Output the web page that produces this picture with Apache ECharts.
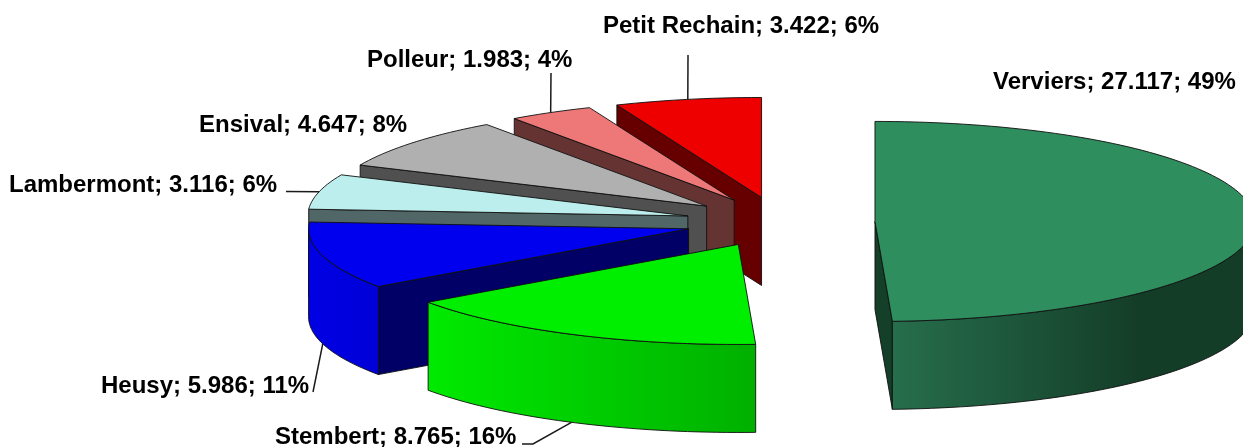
<!DOCTYPE html>
<html><head><meta charset="utf-8">
<style>html,body{margin:0;padding:0;background:#fff}#c{width:1243px;height:447px}</style>
<script src="https://cdn.jsdelivr.net/npm/echarts@6/dist/echarts.min.js"></script>
</head><body><div id="c"></div>
<script>
// Data
const names  = ['Verviers','Stembert','Heusy','Lambermont','Ensival','Polleur','Petit Rechain'];
const values = [27.117, 8.765, 5.986, 3.116, 4.647, 1.983, 3.422];
const shares = [49, 16, 11, 6, 8, 4, 6];

// Styles
const topColors = ['#2E8E5E','#00EE00','#0000EE','#BBEEEC','#B0B0B0','#EE7777','#EE0000'];
const cutColors = ['#143F29','#006600','#000066','#516666','#505050','#663333','#660000'];
const wallStops = [
  [[0,'#266E4C'],[0.68,'#143D28'],[1,'#143D28']],
  [[0,'#00EA00'],[1,'#00B000']],
  [[0,'#0000E4'],[1,'#0000D8']],
  [['0','#516666'],['1','#516666']],
  [['0','#505050'],['1','#505050']],
  [['0','#663333'],['1','#663333']],
  [['0','#660000'],['1','#660000']]
];
// Layout
const geom = {cx:780, cy:222, rx:380, ry:100, depth:88, explode:0.25};
const labelPos = [[993,82.5],[275,437.5],[101,386.5],[9,185.5],[199,125.5],[367,60.5],[603,26.5]];
const leaderEnds = [null,[[533,444],[522,444]],[[313,392]],[[286,191.5]],null,[[551,73]],[[688,55]]];
const leaderFront = [false,true,true,false,false,false,false];

const total = values.reduce((a,b)=>a+b,0);
const rad = d => d*Math.PI/180;
let acc = 0;
const slices = values.map(v => { const a0 = acc/total*360; acc += v; return [a0, acc/total*360]; });

function apex(i){
  const m = rad((slices[i][0]+slices[i][1])/2), g = geom;
  return [g.cx + g.explode*g.rx*Math.sin(m), g.cy - g.explode*g.ry*Math.cos(m)];
}
function onArc(c,deg,dy){
  return [c[0]+geom.rx*Math.sin(rad(deg)), c[1]-geom.ry*Math.cos(rad(deg))+(dy||0)];
}
function arc(c,a0,a1,dy){
  const n = Math.max(2,Math.ceil((a1-a0)/1.5)), pts=[];
  for(let k=0;k<=n;k++) pts.push(onArc(c,a0+(a1-a0)*k/n,dy));
  return pts;
}
const edge = {stroke:'#101010', lineWidth:0.9};
function poly(points,fill,z2){
  return {type:'polygon',z2,silent:true,shape:{points},style:Object.assign({fill},edge)};
}
function renderSlice(params,api){
  const i = api.value(0), c = apex(i), [a0,a1] = slices[i], d = geom.depth, kids=[];
  const base = (names.length-i)*10;
  // cut faces turned toward the viewer
  if(Math.sin(rad(a0))<-1e-6){
    const e = onArc(c,a0);
    kids.push(poly([c,e,[e[0],e[1]+d],[c[0],c[1]+d]],cutColors[i],base));
  }
  if(Math.sin(rad(a1))>1e-6){
    const e = onArc(c,a1);
    kids.push(poly([c,e,[e[0],e[1]+d],[c[0],c[1]+d]],cutColors[i],base));
  }
  // outer wall: front half of the rim only
  const w0 = Math.max(a0,90), w1 = Math.min(a1,270);
  if(w1>w0){
    const t = arc(c,w0,w1,0), b = arc(c,w0,w1,d).reverse(), pts = t.concat(b);
    const xs = pts.map(p=>p[0]);
    const fill = {type:'linear',global:true,x:Math.min(...xs),y:0,x2:Math.max(...xs),y2:0,
      colorStops:wallStops[i].map(s=>({offset:+s[0],color:s[1]}))};
    kids.push(poly(pts,fill,base+1));
  }
  // top face
  kids.push(poly([c].concat(arc(c,a0,a1,0)),topColors[i],base+2));
  // leader line
  if(leaderEnds[i]){
    const s = onArc(c,(a0+a1)/2,leaderFront[i]?d:0);
    kids.push({type:'polyline',z2:200,silent:true,shape:{points:[s].concat(leaderEnds[i])},
      style:{stroke:'#1a1a1a',lineWidth:1.5,fill:null}});
  }
  // label
  kids.push({type:'text',z2:201,silent:true,x:labelPos[i][0],y:labelPos[i][1],
    style:{text:names[i]+'; '+values[i].toFixed(3)+'; '+shares[i]+'%',
      font:'bold 24px "Liberation Sans", Arial, sans-serif',fill:'#000',
      textAlign:'left',textVerticalAlign:'middle'}});
  return {type:'group',children:kids};
}
const chart = echarts.init(document.getElementById('c'),null,{renderer:'canvas',width:1243,height:447});
chart.setOption({
  animation:false,
  backgroundColor:'#fff',
  series:[{type:'custom',coordinateSystem:'none',renderItem:renderSlice,clip:false,
    data:names.map((n,i)=>({name:n,value:[i,values[i]]}))}]
});
</script></body></html>
